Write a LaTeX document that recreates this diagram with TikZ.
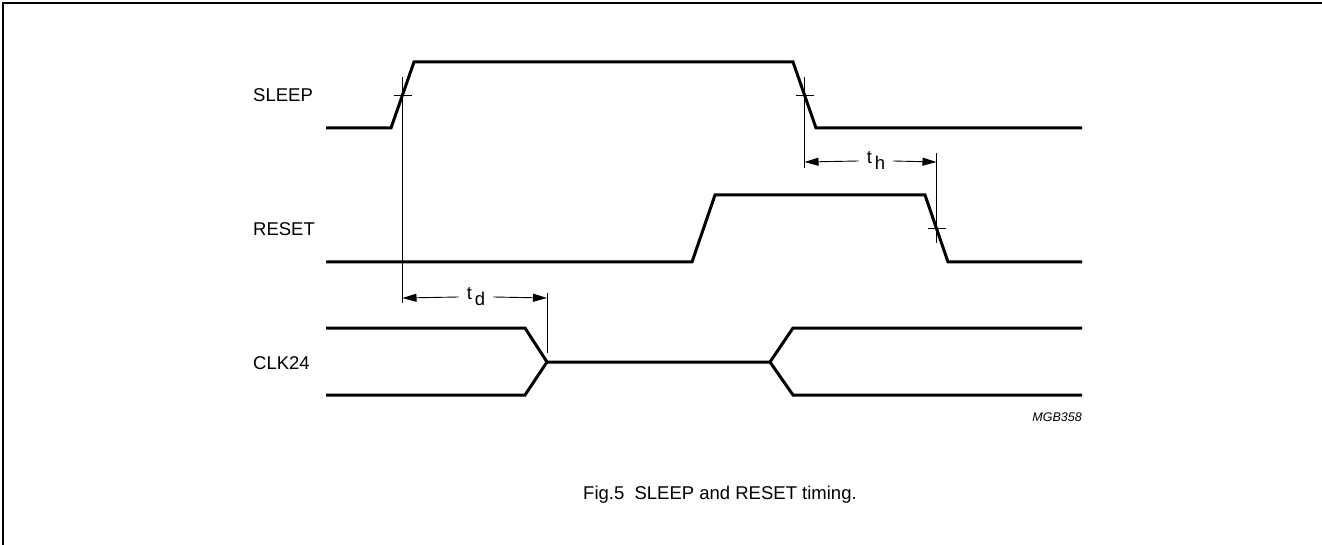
\documentclass[tikz,border=0pt]{standalone}
\usepackage{fontspec}
\setmainfont{Liberation Sans}
\usetikzlibrary{arrows.meta}
\newcommand{\xs}{326}
\newcommand{\xe}{1082}
\newcommand{\sigw}{3pt}
\newcommand{\dimw}{0.9pt}
\newcommand{\lblfont}{\fontsize{18.5}{22}\selectfont}

\begin{document}
\begin{tikzpicture}[x=1pt, y=-1pt, >={Triangle[length=14pt,width=8pt]}]
        \useasboundingbox (0,0) rectangle (1322,545);
        
        % frame
        \draw[line width=2pt] (3,545) -- (3,3) -- (1322,3);
        
        % tick points
        \coordinate (sleepUp) at (402.5, 95);
        \coordinate (sleepDown) at (804.5, 95);
        \coordinate (resetDown) at (936.5, 228.5);
        \coordinate (clkA) at (547, 362);
        
        % signals
        \draw[line width=\sigw] (\xs,128) -- (391,128) -- (414,62) -- (793,62) -- (816,128) -- (\xe,128);
        \draw[line width=\sigw] (\xs,262) -- (692,262) -- (715,195) -- (925,195) -- (948,262) -- (\xe,262);
        \draw[line width=\sigw] (\xs,328) -- (525,328) -- (clkA) -- (525,395) -- (\xs,395);
        \draw[line width=\sigw] (clkA) -- (770,362) -- (793,328) -- (\xe,328);
        \draw[line width=\sigw] (770,362) -- (793,395) -- (\xe,395);
        
        % ticks
        \draw[line width=\dimw] ([xshift=-9pt]sleepUp) -- ([xshift=9pt]sleepUp);
        \draw[line width=\dimw] ([xshift=-9pt]sleepDown) -- ([xshift=9pt]sleepDown);
        \draw[line width=\dimw] ([xshift=-9pt]resetDown) -- ([xshift=9pt]resetDown);
        
        % extension lines
        \draw[line width=\dimw] ([yshift=18pt]sleepUp) -- (402.5,303);
        \draw[line width=\dimw] ([yshift=18pt]sleepDown) -- (804.5,168);
        \draw[line width=\dimw] (936.5,153) -- ([yshift=-15pt]resetDown);
        \draw[line width=\dimw] (547,293) -- (547,353);
        
        % timing arrows
        \node[inner xsep=8pt, inner ysep=2pt, font=\lblfont] (td) at (476,297) {t\,\raisebox{-6pt}{d}};
        \draw[line width=\dimw, ->] (td.west) -- (402.5,298);
        \draw[line width=\dimw, ->] (td.east) -- (547,298);
        \node[inner xsep=8pt, inner ysep=2pt, font=\lblfont] (th) at (876,161) {t\,\raisebox{-6pt}{h}};
        \draw[line width=\dimw, ->] (th.west) -- (804.5,162);
        \draw[line width=\dimw, ->] (th.east) -- (936.5,162);
        
        % labels
        \node[anchor=base west, inner sep=0pt, font=\lblfont] (sleep) at (253,102) {SLEEP};
        \node[anchor=base west, inner sep=0pt, font=\lblfont] (reset) at (253,236) {RESET};
        \node[anchor=base west, inner sep=0pt, font=\lblfont] (clk) at (253,369) {CLK24};
        \node[anchor=base east, inner sep=0pt, font=\fontsize{12.5}{15}\selectfont\itshape] (code) at (1082,421) {MGB358};
        \node[anchor=base west, inner sep=0pt, font=\lblfont] (caption) at (583,499) {Fig.5\ \ SLEEP and RESET timing.};
    \end{tikzpicture}
\end{document}
